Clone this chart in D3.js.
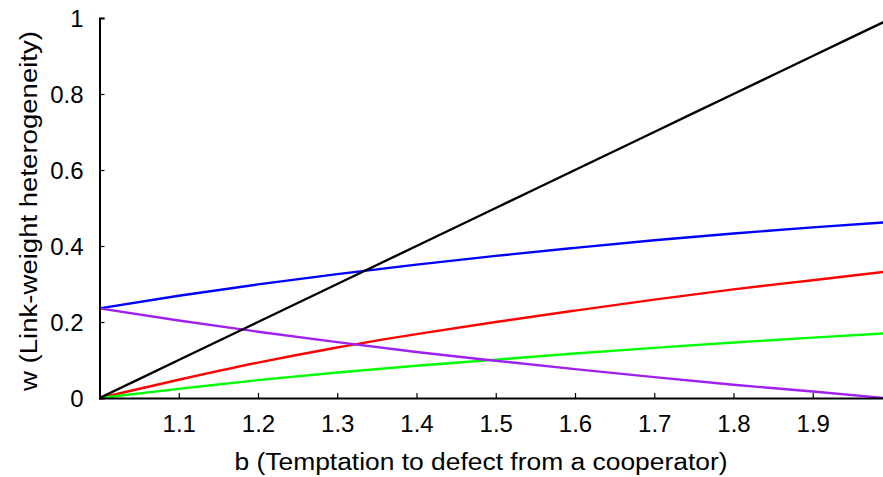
<!DOCTYPE html>
<html>
<head>
<meta charset="utf-8">
<script src="https://cdn.jsdelivr.net/npm/d3@7"></script>
<style>
  body { margin: 0; background: #fff; }
  text { font-family: "Liberation Sans", Arial, sans-serif; }
</style>
</head>
<body>
<div id="chart"></div>
<script>
var bValues = [1.0, 1.1, 1.2, 1.3, 1.4, 1.5, 1.6, 1.7, 1.8, 1.9, 1.99];
var blackW  = [0.0, 0.1, 0.2, 0.3, 0.4, 0.5, 0.6, 0.7, 0.8, 0.9, 0.99];
var blueW   = [0.236, 0.269, 0.299, 0.326, 0.351, 0.374, 0.395, 0.415, 0.433, 0.449, 0.462];
var redW    = [0.0, 0.048, 0.093, 0.133, 0.168, 0.200, 0.230, 0.259, 0.286, 0.310, 0.332];
var greenW  = [0.0, 0.024, 0.047, 0.067, 0.085, 0.101, 0.117, 0.132, 0.146, 0.159, 0.170];
var purpleW = [0.236, 0.204, 0.1745, 0.147, 0.121, 0.098, 0.076, 0.055, 0.035, 0.017, 0.0];
var xTicks = [1.1, 1.2, 1.3, 1.4, 1.5, 1.6, 1.7, 1.8, 1.9];
var yTicks = [0, 0.2, 0.4, 0.6, 0.8, 1];

var series = [
  { color: "#0000ff", w: blueW },
  { color: "#ff0000", w: redW },
  { color: "#00ff00", w: greenW },
  { color: "#a020f0", w: purpleW },
  { color: "#000000", w: blackW }
];

var width = 883;
var height = 477;
var plotLeft = 99.5, plotRight = 883, plotTop = 18, plotBottom = 398;

var svg = d3.select("#chart")
    .append("svg")
      .attr("width", width)
      .attr("height", height);

var x = d3.scaleLinear()
    .domain([1, 1.99])
    .range([plotLeft, plotLeft + 0.99 * 792.5]);
var y = d3.scaleLinear()
    .domain([0, 1])
    .range([plotBottom, plotTop]);

// lines
var line = d3.line()
    .x(function(d) { return x(d[0]); })
    .y(function(d) { return y(d[1]); })
    .curve(d3.curveMonotoneX);

svg.append("g")
  .selectAll("path")
  .data(series)
  .enter()
  .append("path")
    .attr("d", function(s) { return line(bValues.map(function(b, i) { return [b, s.w[i]]; })); })
    .attr("fill", "none")
    .attr("stroke", function(s) { return s.color; })
    .attr("stroke-width", 2.4);

// axes, ticks pointing inward
var xAxis = svg.append("g")
    .attr("transform", "translate(0," + plotBottom + ")")
    .call(d3.axisBottom(x).tickValues(xTicks).tickSize(-5).tickPadding(14)
      .tickFormat(d3.format(".1f")));
var yAxis = svg.append("g")
    .attr("transform", "translate(" + plotLeft + ",0)")
    .call(d3.axisLeft(y).tickValues(yTicks).tickSize(-5).tickPadding(16)
      .tickFormat(function(d) { return d === 0 || d === 1 ? d : d.toFixed(1); }));

[xAxis, yAxis].forEach(function(a) {
  a.select(".domain").attr("stroke", "#000").attr("stroke-width", 2);
  a.selectAll(".tick line").attr("stroke", "#000").attr("stroke-width", 1.2);
  a.selectAll(".tick text")
    .attr("fill", "#000")
    .style("font-family", "'Liberation Sans', Arial, sans-serif")
    .style("font-size", "24px");
});
xAxis.selectAll(".tick text").attr("dy", "0.85em");
yAxis.selectAll(".tick text").attr("dy", "0.36em");

// axis titles
svg.append("text")
    .attr("x", 481)
    .attr("y", 470)
    .attr("text-anchor", "middle")
    .attr("textLength", 493)
    .attr("lengthAdjust", "spacingAndGlyphs")
    .style("font-size", "23px")
    .text("b (Temptation to defect from a cooperator)");

svg.append("text")
    .attr("transform", "translate(37,211) rotate(-90)")
    .attr("text-anchor", "middle")
    .attr("textLength", 360)
    .attr("lengthAdjust", "spacingAndGlyphs")
    .style("font-size", "23px")
    .text("w (Link-weight heterogeneity)");
</script>
</body>
</html>
